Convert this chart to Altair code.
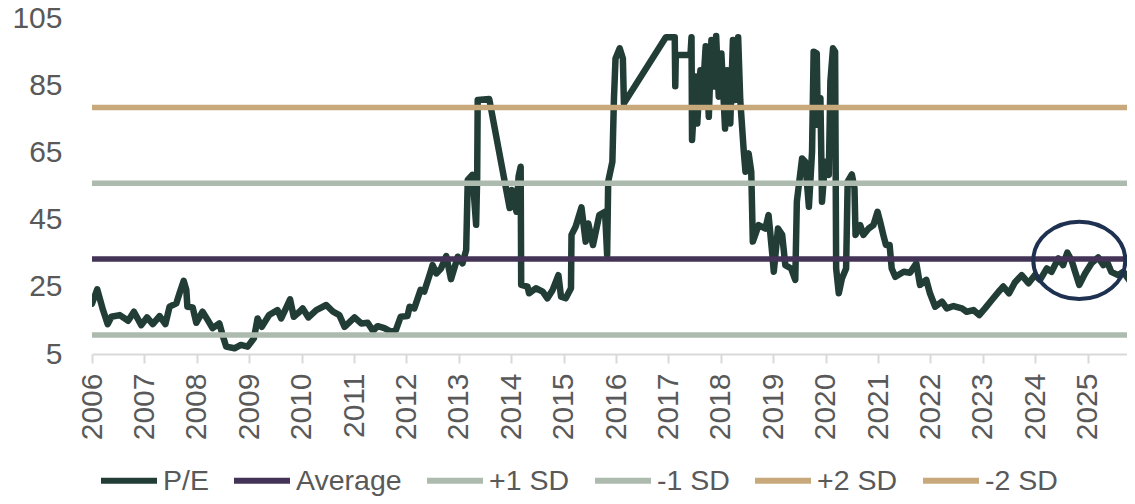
import altair as alt
import pandas as pd

SERIES = ["P/E", "Average", "+1 SD", "-1 SD", "+2 SD", "-2 SD"]
COLORS = ["#213D36", "#433356", "#ADBBAF", "#ADBBAF", "#C8A97B", "#C8A97B"]
STAT_NAMES = ["Average", "+1 SD", "-1 SD", "+2 SD", "-2 SD"]
STAT_VALUES = [33.3, 55.9, 10.7, 78.5, -11.9]
X_START, X_END = 2006.0, 2025.75
Y_TICKS = [5, 25, 45, 65, 85, 105]
X_TICKS = list(range(2006, 2026))

PE_YEARS = [
    2006.00, 2006.10, 2006.21, 2006.30, 2006.37, 2006.53, 2006.69, 2006.80, 2006.94, 2007.05,
    2007.16, 2007.29, 2007.40, 2007.48, 2007.61, 2007.67, 2007.75, 2007.80, 2007.82, 2007.92,
    2007.99, 2008.11, 2008.21, 2008.30, 2008.43, 2008.50, 2008.56, 2008.72, 2008.84, 2008.97,
    2009.09, 2009.16, 2009.24, 2009.38, 2009.54, 2009.61, 2009.70, 2009.78, 2009.85, 2009.96,
    2010.02, 2010.13, 2010.28, 2010.47, 2010.60, 2010.72, 2010.82, 2011.01, 2011.14, 2011.26,
    2011.36, 2011.45, 2011.58, 2011.71, 2011.80, 2011.89, 2012.02, 2012.06, 2012.15, 2012.27,
    2012.34, 2012.44, 2012.50, 2012.57, 2012.66, 2012.76, 2012.85, 2012.98, 2013.07, 2013.14,
    2013.17, 2013.26, 2013.33, 2013.35, 2013.36, 2013.58, 2013.97, 2014.01, 2014.10, 2014.14,
    2014.18, 2014.19, 2014.31, 2014.34, 2014.47, 2014.60, 2014.69, 2014.79, 2014.90, 2014.95,
    2015.04, 2015.14, 2015.15, 2015.23, 2015.34, 2015.42, 2015.47, 2015.56, 2015.68, 2015.79,
    2015.83, 2015.85, 2015.93, 2015.96, 2015.99, 2016.07, 2016.13, 2016.15, 2016.95, 2017.12,
    2017.13, 2017.14, 2017.42, 2017.44, 2017.45, 2017.52, 2017.55, 2017.61, 2017.64, 2017.71,
    2017.77, 2017.82, 2017.87, 2017.91, 2017.96, 2018.01, 2018.08, 2018.12, 2018.18, 2018.23,
    2018.27, 2018.33, 2018.37, 2018.44, 2018.47, 2018.53, 2018.58, 2018.61, 2018.72, 2018.85,
    2018.91, 2018.98, 2019.01, 2019.09, 2019.17, 2019.23, 2019.34, 2019.42, 2019.45, 2019.55,
    2019.61, 2019.68, 2019.74, 2019.77, 2019.83, 2019.85, 2019.90, 2019.93, 2019.99, 2020.06,
    2020.09, 2020.14, 2020.18, 2020.20, 2020.25, 2020.31, 2020.39, 2020.42, 2020.50, 2020.55,
    2020.57, 2020.66, 2020.72, 2020.82, 2020.91, 2020.99, 2021.04, 2021.10, 2021.15, 2021.22,
    2021.26, 2021.33, 2021.49, 2021.61, 2021.73, 2021.80, 2021.92, 2021.99, 2022.09, 2022.22,
    2022.31, 2022.44, 2022.60, 2022.69, 2022.82, 2022.93, 2023.04, 2023.17, 2023.33, 2023.39,
    2023.50, 2023.61, 2023.74, 2023.87, 2023.99, 2024.09, 2024.22, 2024.31, 2024.44, 2024.53,
    2024.61, 2024.69, 2024.76, 2024.84, 2024.95, 2025.07, 2025.20, 2025.30, 2025.37, 2025.45,
    2025.58, 2025.68, 2025.77, 2025.87,
]
PE_VALUES = [
    20.0, 24.3, 18.1, 13.9, 16.1, 16.6, 14.9, 17.6, 13.6, 15.9,
    13.9, 16.3, 13.9, 19.1, 20.1, 23.1, 26.8, 24.1, 19.1, 18.9,
    14.3, 17.6, 15.1, 12.7, 14.1, 10.2, 7.2, 6.7, 7.7, 7.2,
    9.7, 15.6, 13.1, 16.6, 18.1, 15.6, 18.6, 21.3, 16.1, 17.6,
    18.6, 15.9, 18.1, 19.6, 17.6, 16.6, 13.1, 15.9, 14.1, 14.3,
    11.9, 13.3, 12.7, 11.6, 12.2, 16.1, 16.3, 19.1, 18.6, 24.1,
    23.6, 28.5, 31.5, 29.0, 30.5, 34.2, 27.3, 34.0, 32.0, 36.0,
    56.9, 58.4, 43.5, 57.8, 80.7, 81.0, 48.5, 53.9, 47.4, 57.9,
    60.8, 25.6, 25.1, 23.1, 24.6, 23.6, 21.6, 24.1, 28.5, 22.1,
    21.6, 24.6, 40.5, 43.0, 48.7, 38.5, 43.9, 37.5, 46.4, 47.4,
    34.5, 56.4, 62.3, 81.2, 93.1, 96.1, 93.1, 79.7, 99.4, 99.4,
    84.8, 94.1, 94.1, 99.4, 68.8, 87.7, 73.7, 89.6, 78.7, 96.7,
    75.7, 98.6, 84.7, 99.8, 81.7, 94.6, 72.2, 89.6, 73.7, 98.6,
    80.7, 99.4, 80.7, 64.8, 59.3, 64.8, 59.3, 38.5, 43.4, 42.4,
    46.4, 35.0, 29.5, 42.4, 40.5, 31.5, 30.5, 27.1, 50.4, 63.3,
    62.3, 48.9, 65.3, 95.1, 94.6, 73.3, 81.2, 50.4, 62.3, 58.4,
    86.2, 96.1, 95.1, 30.5, 23.1, 27.5, 30.5, 56.4, 58.5, 54.4,
    40.5, 43.4, 40.5, 42.4, 43.4, 47.4, 44.4, 40.5, 37.5, 37.5,
    30.5, 28.0, 29.5, 29.2, 32.0, 25.6, 27.1, 23.1, 19.1, 20.6,
    18.6, 19.3, 18.6, 17.6, 18.1, 16.6, 18.6, 21.1, 24.1, 25.1,
    23.1, 26.3, 28.5, 26.1, 28.5, 27.1, 30.5, 29.5, 33.5, 31.5,
    35.2, 33.0, 29.5, 25.6, 29.0, 32.0, 33.8, 31.5, 32.5, 29.5,
    28.5, 29.5, 27.5, 25.1,
]

MARK_YEAR = [2024.84]
MARK_VALUE = [32.9]

FONT = "Liberation Sans"
TEXT_COLOR = "#595959"
ELLIPSE = "M-1,0A1,0.84,0,1,1,1,0A1,0.84,0,1,1,-1,0Z"

pe_df = pd.DataFrame({"year": PE_YEARS, "value": PE_VALUES})
pe_df["series"] = "P/E"
pe_df["idx"] = range(len(pe_df))

stat_rows = []
for name, val in zip(STAT_NAMES, STAT_VALUES):
    stat_rows.append({"year": X_START, "value": val, "series": name})
    stat_rows.append({"year": X_END, "value": val, "series": name})
stat_df = pd.DataFrame(stat_rows)

mark_df = pd.DataFrame({"year": MARK_YEAR, "value": MARK_VALUE})

xscale = alt.Scale(domain=[X_START, X_END], nice=False, zero=False)
yscale = alt.Scale(domain=[5, 105], nice=False, zero=False)
cscale = alt.Scale(domain=SERIES, range=COLORS)

xaxis = alt.Axis(values=X_TICKS, format="d", labelAngle=270, labelFontSize=30,
                 labelColor=TEXT_COLOR, labelFont=FONT, domainColor="#D9D9D9",
                 domainWidth=2, tickColor="#D9D9D9", tickWidth=2, tickSize=9,
                 labelPadding=10, grid=False, title=None, labelFlush=False,
                 labelOverlap=False)
yaxis = alt.Axis(values=Y_TICKS, labelFontSize=30, labelColor=TEXT_COLOR,
                 labelFont=FONT, domain=False, ticks=False, grid=False,
                 title=None, labelPadding=30, labelFlush=False)

legend = alt.Legend(orient="none", legendX=6, legendY=431, direction="horizontal",
                    title=None, symbolType="stroke", symbolSize=3136,
                    symbolStrokeWidth=6, labelFontSize=28.5, labelColor=TEXT_COLOR,
                    labelFont=FONT, columnPadding=13, labelOffset=3, padding=0)

pe_line = alt.Chart(pe_df).mark_line(strokeWidth=6.5, strokeJoin="round",
                                     strokeCap="round", clip=True).encode(
    x=alt.X("year:Q", scale=xscale, axis=xaxis),
    y=alt.Y("value:Q", scale=yscale, axis=yaxis),
    color=alt.Color("series:N", scale=cscale, legend=legend),
    order=alt.Order("idx:Q"),
)

stat_lines = alt.Chart(stat_df).mark_line(strokeWidth=5.5, clip=True).encode(
    x=alt.X("year:Q", scale=xscale),
    y=alt.Y("value:Q", scale=yscale),
    color=alt.Color("series:N", scale=cscale, legend=legend),
    detail="series:N",
)

ellipse = alt.Chart(mark_df).mark_point(shape=ELLIPSE, filled=False, size=8464,
                                        strokeWidth=4, color="#1E3150",
                                        opacity=1).encode(
    x=alt.X("year:Q", scale=xscale),
    y=alt.Y("value:Q", scale=yscale),
)

chart = alt.layer(pe_line, stat_lines, ellipse).properties(
    width=1035, height=335.5,
    padding={"left": 84, "top": 10.5, "right": 0, "bottom": 142},
    autosize=alt.AutoSizeParams(type="none"),
).configure_view(stroke=None)

chart.save("out.html", embed_options={"renderer": "svg", "actions": False})
